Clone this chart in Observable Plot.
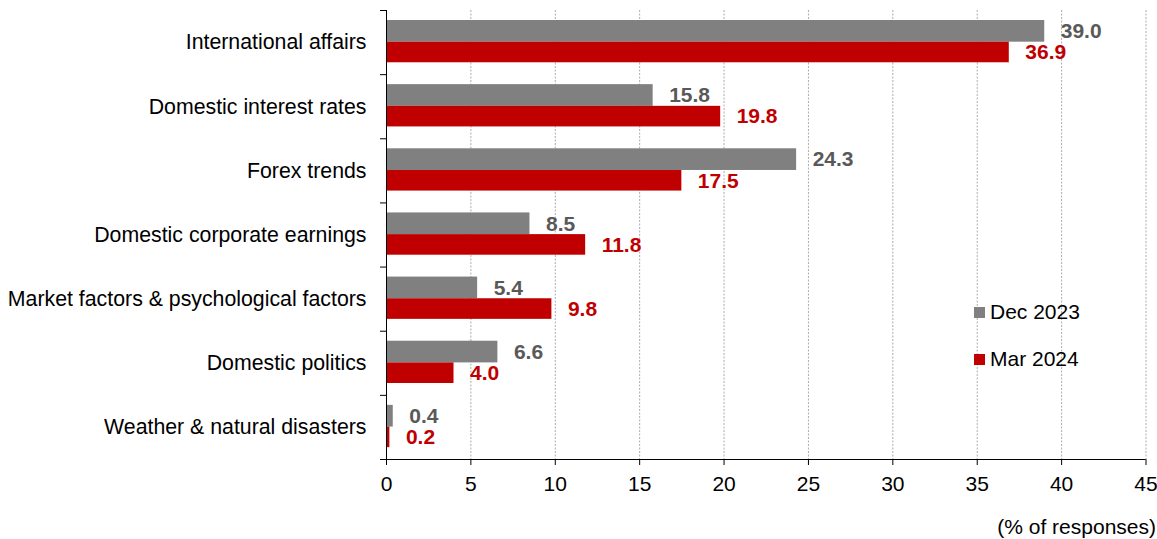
<!DOCTYPE html>
<html>
<head>
<meta charset="utf-8">
<script src="https://cdn.jsdelivr.net/npm/d3@7"></script>
<script src="https://cdn.jsdelivr.net/npm/@observablehq/plot@0.6"></script>
<style>
  html, body { margin: 0; padding: 0; background: #fff; }
  #chart { position: relative; width: 1157px; height: 539px; overflow: hidden; font-family: "Liberation Sans", Arial, sans-serif; }
  #legend { position: absolute; left: 974px; top: 300px; font-size: 21px; line-height: 24px; color: #000; }
  #legend div { display: flex; align-items: center; height: 24px; margin-bottom: 23px; }
  #legend span.sw { display: inline-block; width: 11px; height: 11px; margin-right: 5px; }
  #unit { position: absolute; right: 1px; top: 515px; font-size: 21px; line-height: 24px; color: #000; }
</style>
</head>
<body>
<div id="chart">
  <div id="legend"></div>
  <div id="unit">(% of responses)</div>
</div>
<script>
const categories = [
  "International affairs",
  "Domestic interest rates",
  "Forex trends",
  "Domestic corporate earnings",
  "Market factors & psychological factors",
  "Domestic politics",
  "Weather & natural disasters"
];
const seriesNames = ["Dec 2023", "Mar 2024"];
const dec2023 = [39.0, 15.8, 24.3, 8.5, 5.4, 6.6, 0.4];
const mar2024 = [36.9, 19.8, 17.5, 11.8, 9.8, 4.0, 0.2];
const xTicks = [0, 5, 10, 15, 20, 25, 30, 35, 40, 45];

const barColors = ["#808080", "#C00000"];
const labelColors = ["#595959", "#C00000"];

// within-band offsets of each series' bar (fraction of band)
const slots = [[0.156, 0.494], [0.494, 0.815]];

const rows = [];
categories.forEach((c, i) => {
  [dec2023, mar2024].forEach((vals, s) => {
    rows.push({
      category: c, index: i, series: seriesNames[s], s,
      value: vals[i],
      y1: i + slots[s][0], y2: i + slots[s][1],
      ym: i + (slots[s][0] + slots[s][1]) / 2
    });
  });
});
const catRows = categories.map((c, i) => ({category: c, ym: i + 0.5}));
const bounds = d3.range(0, categories.length + 1);

const plot = Plot.plot({
  width: 1157,
  height: 539,
  marginLeft: 386,
  marginRight: 11.5,
  marginTop: 10,
  marginBottom: 80,
  style: {fontFamily: "'Liberation Sans', Arial, sans-serif", fontSize: "21px", color: "#000", background: "transparent"},
  x: {domain: [0, 45], label: null},
  y: {domain: [0, categories.length], reverse: true, label: null},
  marks: [
    Plot.ruleX(xTicks.filter(d => d > 0), {stroke: "#acacac", strokeWidth: 1, strokeDasharray: "2,1.5"}),
    Plot.rectX(rows, {x1: 0, x2: "value", y1: "y1", y2: "y2", fill: d => barColors[d.s]}),
    Plot.text(rows, {x: "value", y: "ym", text: d => d.value.toFixed(1), dx: 16, textAnchor: "start",
      fill: d => labelColors[d.s], fontWeight: "bold", fontSize: 21}),
    Plot.text(catRows, {x: 0, y: "ym", text: "category", dx: -20, textAnchor: "end", fill: "#000", fontSize: 21.3}),
    Plot.ruleX([0], {stroke: "#000", strokeWidth: 1}),
    Plot.axisY({ticks: bounds, tickFormat: () => "", tickSize: 6, stroke: "#000", label: null}),
    Plot.ruleY([categories.length], {stroke: "#000", strokeWidth: 1}),
    Plot.axisX({ticks: xTicks, tickSize: 6, tickPadding: 11, fontSize: 21, stroke: "#000", label: null})
  ]
});
document.getElementById("chart").prepend(plot);

const legend = document.getElementById("legend");
seriesNames.forEach((n, s) => {
  const row = document.createElement("div");
  row.innerHTML = `<span class="sw" style="background:${barColors[s]}"></span>${n}`;
  legend.appendChild(row);
});
</script>
</body>
</html>
